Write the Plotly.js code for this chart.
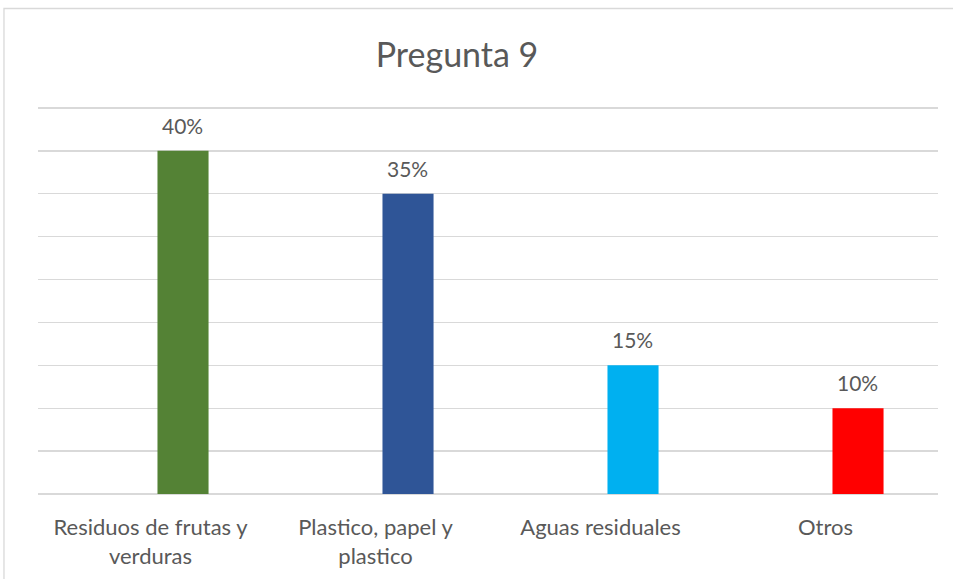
<!DOCTYPE html>
<html>
<head>
<meta charset="utf-8">
<script src="https://cdn.plot.ly/plotly-3.0.1.min.js"></script>
<style>
html,body{margin:0;padding:0;background:#fff;}
#chart{width:953px;height:579px;}
</style>
</head>
<body>
<div id="chart"></div>
<script>
var categories = ["Residuos de frutas y<br>verduras", "Plastico, papel y<br>plastico", "Aguas residuales", "Otros"];
var values = [0.40, 0.35, 0.15, 0.10];
var labels = ["40%", "35%", "15%", "10%"];
var colors = ["#548235", "#2F5597", "#00B0F0", "#FF0000"];
var yTicks = [0, 0.05, 0.10, 0.15, 0.20, 0.25, 0.30, 0.35, 0.40, 0.45];

var FONT = "Lato, 'Liberation Sans', sans-serif";
var TXT = "#595959";

var trace = {
  type: "bar",
  x: categories,
  y: values,
  marker: {color: colors},
  width: 0.227,
  offset: 0.031,
  hoverinfo: "skip"
};

var annotations = values.map(function (v, i) {
  return {
    x: categories[i], y: v, xref: "x", yref: "y",
    text: labels[i], showarrow: false,
    xanchor: "center", yanchor: "bottom",
    xshift: 32, yshift: 11,
    font: {family: FONT, size: 21, color: TXT}
  };
});

var layout = {
  width: 953, height: 579,
  margin: {l: 38, r: 15, t: 106, b: 85},
  paper_bgcolor: "#ffffff", plot_bgcolor: "#ffffff",
  showlegend: false,
  title: {
    text: "Pregunta 9",
    x: 0.4656, xref: "paper", xanchor: "center",
    y: 0.905, yref: "container", yanchor: "middle",
    font: {family: FONT, size: 34, color: TXT}
  },
  xaxis: {
    type: "category",
    showgrid: false, zeroline: false, showline: false,
    ticks: "",
    ticklabelstandoff: 18,
    tickfont: {family: FONT, size: 22, color: TXT},
    fixedrange: true
  },
  yaxis: {
    range: [0, 0.4523],
    tickvals: yTicks,
    showticklabels: false,
    showgrid: true, gridcolor: "#d9d9d9", gridwidth: 1.3,
    zeroline: true, zerolinecolor: "#d9d9d9", zerolinewidth: 1.3,
    showline: false, ticks: "",
    fixedrange: true
  },
  shapes: [{
    type: "rect", xref: "paper", yref: "paper",
    x0: -0.0378, x1: 1.2, y0: -0.5, y1: 1.2513,
    line: {color: "#d9d9d9", width: 1.3},
    fillcolor: "rgba(0,0,0,0)"
  }],
  annotations: annotations
};

Plotly.newPlot("chart", [trace], layout, {displayModeBar: false, staticPlot: true});
</script>
</body>
</html>
